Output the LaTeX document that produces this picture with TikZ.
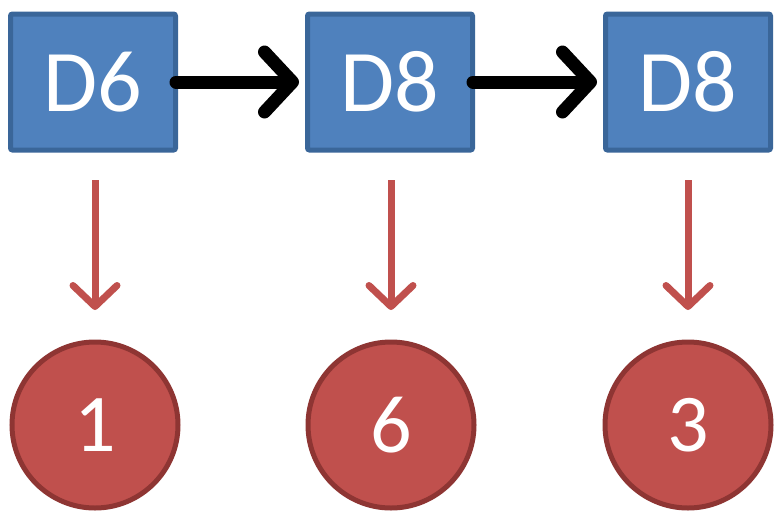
\documentclass[tikz,border=0pt]{standalone}
\usepackage{fontspec}
\setmainfont{Carlito}
\usetikzlibrary{arrows.meta}
\definecolor{boxfill}{HTML}{4F81BD}
\definecolor{boxline}{HTML}{3A6699}
\definecolor{circfill}{HTML}{C0504D}
\definecolor{circline}{HTML}{8E3533}
\tikzset{
  dbox/.style={draw=boxline, fill=boxfill, line width=5pt, minimum width=165pt, minimum height=136pt, inner sep=0pt, text=white, font=\fontsize{88}{88}\selectfont, rounded corners=2pt},
  rcirc/.style={circle, draw=circline, fill=circfill, line width=5pt, minimum size=166pt, inner sep=0pt, text=white, font=\fontsize{82}{82}\selectfont},
  blackarrow/.style={line width=13pt, line cap=round, -{Straight Barb[length=28pt,width=60pt,line cap=round,line join=round]}},
  redarrow/.style={draw=circfill, line width=7pt, -{Straight Barb[length=21pt,width=44pt,line cap=round,line join=round]}}
}
\begin{document}
\begin{tikzpicture}[x=1pt,y=-1pt]
\useasboundingbox (0,0) rectangle (784,523);
\node[dbox] (b1) at (93,82) {D6};
\node[dbox] (b2) at (390,82) {D8};
\node[dbox] (b3) at (688,82) {D8};
\node[rcirc] (c1) at (95,425) {1};
\node[rcirc] (c2) at (391,425) {6};
\node[rcirc] (c3) at (688,425) {3};
\coordinate (t1) at (95,180);
\coordinate (t2) at (391,180);
\coordinate (t3) at (688,180);
\coordinate (e1) at (95,310);
\coordinate (e2) at (391,310);
\coordinate (e3) at (688,310);
\draw[blackarrow] ([xshift=-2pt]b1.east) -- ([xshift=-6pt]b2.west);
\draw[blackarrow] ([xshift=-2pt]b2.east) -- ([xshift=-6pt]b3.west);
\draw[redarrow] (t1) -- (e1);
\draw[redarrow] (t2) -- (e2);
\draw[redarrow] (t3) -- (e3);
\end{tikzpicture}
\end{document}
